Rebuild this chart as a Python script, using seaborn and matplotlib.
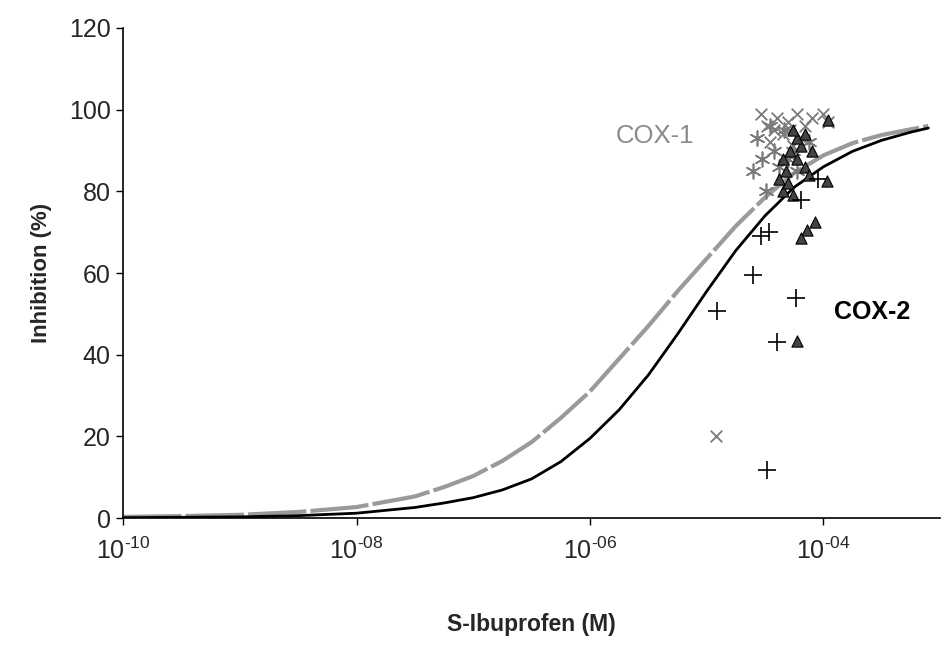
import numpy as np
import pandas as pd
import matplotlib
matplotlib.use("Agg")
import matplotlib.pyplot as plt
import seaborn as sns

# fitted curves (log10 of concentration, % inhibition)
curve_logx_cox1 = [-10, -9.5, -9, -8.5, -8, -7.5, -7.25, -7, -6.75, -6.5, -6.25, -6, -5.75,
                   -5.5, -5.25, -5, -4.75, -4.5, -4.25, -4, -3.75, -3.5, -3.25, -3.1]
curve_inh_cox1 = [0.3, 0.5, 0.8, 1.5, 2.7, 5.3, 7.6, 10.3, 14, 18.6, 24.5, 31, 39,
                  47, 55.5, 63.5, 71.5, 78.5, 84.5, 88.8, 91.8, 93.8, 95.2, 96]

curve_logx_cox2 = [-10, -9.5, -9, -8.5, -8, -7.5, -7.25, -7, -6.75, -6.5, -6.25, -6, -5.75,
                   -5.5, -5.25, -5, -4.75, -4.5, -4.25, -4, -3.75, -3.5, -3.25, -3.1]
curve_inh_cox2 = [0.1, 0.2, 0.3, 0.6, 1.2, 2.6, 3.7, 5.0, 6.9, 9.6, 13.8, 19.5, 26.5,
                  35, 45, 55.5, 65.5, 74, 81, 86, 89.8, 92.5, 94.5, 95.5]

# COX-1 data points
cox1_x_conc = [2.9e-5, 3.3e-5, 4e-5, 5e-5, 6e-5, 7e-5, 8e-5, 1e-4, 1.1e-4, 3.5e-5,
               4.5e-5, 5.5e-5, 6.5e-5, 3.8e-5, 5.2e-5, 1.2e-5]
cox1_x_inh = [99, 96, 98, 97, 99, 96, 98, 99, 97, 92, 94, 91, 93, 95, 95, 20]
cox1_star_conc = [2.7e-5, 2.5e-5, 3e-5, 3.8e-5, 4.2e-5, 5e-5, 6e-5, 3.2e-5, 4.6e-5, 7.5e-5,
                  3.5e-5, 5.5e-5]
cox1_star_inh = [93, 85, 88, 90, 86, 88, 85, 80, 95, 92, 96, 90]

# COX-2 data points
cox2_tri_conc = [4.5e-5, 5e-5, 5.5e-5, 4.8e-5, 6e-5, 6.5e-5, 7e-5, 7.5e-5, 8e-5, 6e-5,
                 5.2e-5, 1.1e-4, 1.08e-4, 8.5e-5, 7.2e-5, 6.5e-5, 6e-5, 5.5e-5, 4.5e-5,
                 4.2e-5, 7e-5]
cox2_tri_inh = [80, 82, 79, 85, 88, 91, 86, 84, 90, 93,
                90, 97.5, 82.5, 72.5, 70.5, 68.5, 43.3, 95, 88, 83, 94]
cox2_plus_conc = [1.23e-5, 2.5e-5, 2.9e-5, 3.4e-5, 4e-5, 5.8e-5, 3.3e-5, 9e-5, 6.5e-5]
cox2_plus_inh = [50.7, 59.5, 69, 70, 43, 54, 11.8, 83, 78]

xtick_vals = [1e-10, 1e-8, 1e-6, 1e-4]
xtick_exps = ["-10", "-08", "-06", "-04"]

sns.set_style("ticks")
plt.rcParams["font.family"] = ["Liberation Sans", "DejaVu Sans"]
plt.rcParams["mathtext.fontset"] = "custom"
plt.rcParams["mathtext.rm"] = "Liberation Sans"

fig = plt.figure(figsize=(9.47, 6.60), dpi=100)
ax = fig.add_axes([0.13, 0.215, 0.8626, 0.7426])

c1 = pd.DataFrame({"conc": 10.0 ** np.array(curve_logx_cox1), "inh": curve_inh_cox1})
c2 = pd.DataFrame({"conc": 10.0 ** np.array(curve_logx_cox2), "inh": curve_inh_cox2})
sns.lineplot(data=c1, x="conc", y="inh", ax=ax, color="#9a9a9a", lw=3,
             linestyle=(0, (14, 1)), zorder=2)
sns.lineplot(data=c2, x="conc", y="inh", ax=ax, color="black", lw=2, zorder=3)

sns.scatterplot(x=cox1_x_conc, y=cox1_x_inh, ax=ax, marker="x", color="#7a7a7a",
                s=70, linewidth=1.3, zorder=4)
sns.scatterplot(x=cox1_star_conc, y=cox1_star_inh, ax=ax, marker=(6, 2, 0), color="#7a7a7a",
                s=110, linewidth=1.2, zorder=4)
sns.scatterplot(x=cox2_tri_conc, y=cox2_tri_inh, ax=ax, marker="^", color="#444444",
                edgecolor="black", s=65, linewidth=0.8, zorder=5)
sns.scatterplot(x=cox2_plus_conc, y=cox2_plus_inh, ax=ax, marker="+", color="black",
                s=150, linewidth=1.2, zorder=5)

ax.set_xscale("log")
ax.set_xlim(1e-10, 1e-3)
ax.set_ylim(0, 120)
ax.set_xticks(xtick_vals)
ax.set_xticklabels([r"$\mathregular{10^{\text{%s}}}$" % e for e in xtick_exps])
ax.xaxis.set_minor_locator(matplotlib.ticker.NullLocator())
ax.set_yticks(range(0, 121, 20))
ax.tick_params(axis="both", labelsize=18, length=5, width=1, color="black")
ax.tick_params(axis="x", pad=9)
ax.tick_params(axis="y", pad=4)

sns.despine(ax=ax)
for s in ["left", "bottom"]:
    ax.spines[s].set_color("black")
    ax.spines[s].set_linewidth(1.2)

ax.set_xlabel("S-Ibuprofen (M)", fontsize=16.5, fontweight="bold", labelpad=35)
ax.set_ylabel("Inhibition (%)", fontsize=16, fontweight="bold", labelpad=12)

ax.text(3.6e-6, 93.5, "COX-1", fontsize=18.5, color="#8a8a8a", ha="center", va="center")
ax.text(2.6e-4, 50.4, "COX-2", fontsize=18, fontweight="bold", color="black",
        ha="center", va="center")

fig.savefig("out.png", dpi=100)
